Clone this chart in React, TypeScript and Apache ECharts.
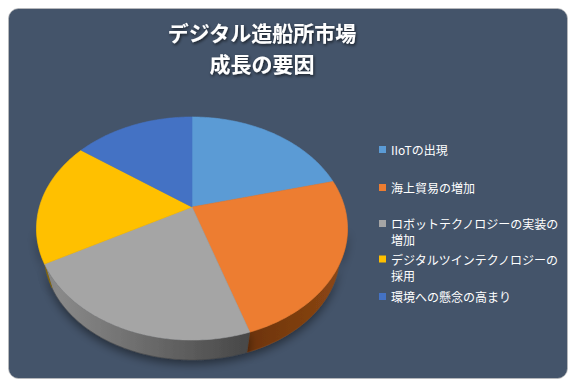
import { useEffect, useRef } from 'react';
import * as echarts from 'echarts';

// ---- data ----
const categories = [
  'IIoTの出現',
  '海上貿易の増加',
  'ロボットテクノロジーの実装の増加',
  'デジタルツインテクノロジーの採用',
  '環境への懸念の高まり',
];
const values = [21, 24, 22, 18, 15];
const titleLines = ['デジタル造船所市場', '成長の要因'];

// ---- styles ----
const colors = ['#5b9bd5', '#ed7d31', '#a5a5a5', '#ffc000', '#4472c4'];
const wallColors = [
  ['#3a6a96', '#3a6a96'],
  ['#6c330b', '#8e4814'],
  ['#8e8e8e', '#474747'],
  ['#a88000', '#8a6800'],
  ['#2d4d88', '#2d4d88'],
];
const legendTops = [133.5, 171.5, 207.5, 243, 280.5];

const W = 560;
const H = 371;
const CX = 184;
const CY = 199;
const RA = 152.6;
const RB = 107.4;
const K = 0.193;
const DEPTH = 26.5;
const SHRINK = 0.95;
const VIS0 = (Math.acos(-K) * 180) / Math.PI;
const VIS1 = 360 - VIS0;
const FONT = "'Noto Sans CJK JP', 'Noto Sans', sans-serif";

function proj(deg: number, bottom: boolean): number[] {
  const t = (deg * Math.PI) / 180;
  const s = bottom ? SHRINK : 1;
  const den = 1 + K * Math.cos(t);
  return [CX + (s * RA * Math.sin(t)) / den, CY + (bottom ? DEPTH : 0) - (s * RB * Math.cos(t)) / den];
}

function arc(a0: number, a1: number, bottom: boolean): number[][] {
  const pts: number[][] = [];
  const n = Math.max(2, Math.ceil(Math.abs(a1 - a0)));
  for (let j = 0; j <= n; j++) pts.push(proj(a0 + ((a1 - a0) * j) / n, bottom));
  return pts;
}

const total = values.reduce((s, v) => s + v, 0);
const starts: number[] = [];
values.reduce((acc, v, i) => {
  starts[i] = acc;
  return acc + v;
}, 0);

function wrapName(name: string): string {
  return name.length > 14 ? name.slice(0, 14) + '\n' + name.slice(14) : name;
}

const twoLineIcon =
  'path://M0,0h0.01v0.01h-0.01z M0,4.5h7v7h-7z M0,31.99h0.01v0.01h-0.01z';

export default function App() {
  const ref = useRef<HTMLDivElement>(null);

  useEffect(() => {
    if (!ref.current) return;
    const chart = echarts.init(ref.current, null, { renderer: 'svg' });

    const wallSeries = {
      type: 'custom',
      name: '__walls',
      coordinateSystem: 'none',
      z: 1,
      silent: true,
      data: values.map((v) => [v]),
      renderItem: (params: any, api: any) => {
        const i = params.dataIndex;
        const v = api.value(0);
        const a0 = (starts[i] / total) * 360;
        const a1 = a0 + (v / total) * 360;
        const lo = Math.max(a0, VIS0);
        const hi = Math.min(a1, VIS1);
        if (lo >= hi) return null;
        const top = arc(lo, hi, false);
        const bot = arc(lo, hi, true).reverse();
        return {
          type: 'polygon',
          shape: { points: top.concat(bot) },
          style: {
            fill: new echarts.graphic.LinearGradient(0, 0, 1, 0, [
              { offset: 0, color: wallColors[i][0] },
              { offset: 1, color: wallColors[i][1] },
            ]),
            stroke: wallColors[i][1],
            lineWidth: 0.5,
            shadowColor: 'rgba(0,0,0,0.45)',
            shadowBlur: 10,
            shadowOffsetY: 4,
          },
        };
      },
    };

    const topSeries = categories.map((name, i) => ({
      type: 'custom',
      name,
      coordinateSystem: 'none',
      z: 3,
      itemStyle: { color: colors[i] },
      data: [[values[i]]],
      renderItem: (_params: any, api: any) => {
        const v = api.value(0);
        const a0 = (starts[i] / total) * 360;
        const a1 = a0 + (v / total) * 360;
        const pts = [[CX, CY]].concat(arc(a0, a1, false));
        return {
          type: 'polygon',
          shape: { points: pts },
          style: { fill: colors[i], stroke: colors[i], lineWidth: 0.6 },
        };
      },
    }));

    const legends = categories.map((name, i) => {
      const two = name.length > 14;
      return {
        data: [{ name, icon: two ? twoLineIcon : 'rect' }],
        orient: 'vertical',
        left: 371,
        top: legendTops[i],
        padding: 0,
        itemWidth: 7,
        itemHeight: two ? 32 : 7,
        selectedMode: false,
        formatter: wrapName,
        textStyle: { color: '#ffffff', fontSize: 12, lineHeight: 16, fontFamily: FONT },
      };
    });

    chart.setOption({
      animation: false,
      backgroundColor: 'transparent',
      graphic: [
        {
          type: 'rect',
          z: -10,
          silent: true,
          shape: { x: 0.5, y: 0.5, width: W - 1, height: H - 1, r: 10 },
          style: { fill: '#44546a', stroke: 'rgba(190,190,190,0.7)', lineWidth: 1 },
        },
      ],
      title: {
        text: titleLines.join('\n'),
        left: 254,
        top: 8.5,
        padding: 0,
        textAlign: 'center',
        textStyle: {
          color: '#ffffff',
          fontSize: 21,
          fontWeight: 'bold',
          lineHeight: 31,
          fontFamily: FONT,
          textShadowColor: 'rgba(0,0,0,0.65)',
          textShadowBlur: 3,
          textShadowOffsetX: 1,
          textShadowOffsetY: 1.5,
        },
      },
      legend: legends,
      series: [wallSeries, ...topSeries],
    });

    return () => chart.dispose();
  }, []);

  return <div ref={ref} style={{ width: W, height: H }} />;
}
